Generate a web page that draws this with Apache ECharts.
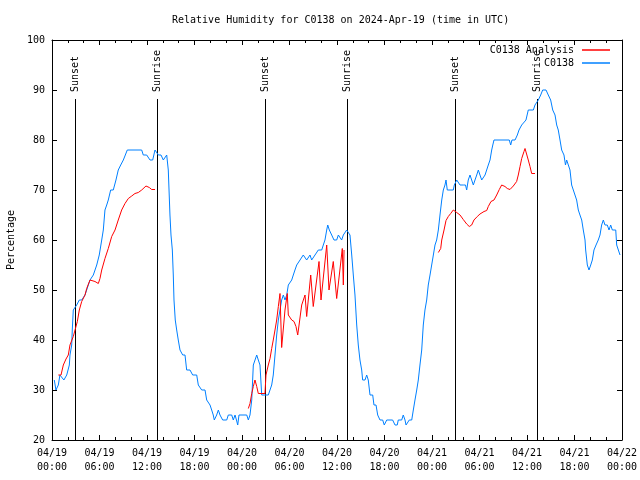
<!DOCTYPE html>
<html>
<head>
<meta charset="utf-8">
<script src="https://cdn.jsdelivr.net/npm/echarts@6/dist/echarts.min.js"></script>
<style>html,body{margin:0;padding:0;background:#fff}#chart{width:640px;height:480px}</style>
</head>
<body>
<div id="chart"></div>
<script>
// ---- data (hours since 2024-04-19 00:00 UTC, relative humidity %) ----
const xTickLabels = ['04/19\n00:00','04/19\n06:00','04/19\n12:00','04/19\n18:00','04/20\n00:00','04/20\n06:00','04/20\n12:00','04/20\n18:00','04/21\n00:00','04/21\n06:00','04/21\n12:00','04/21\n18:00','04/22\n00:00'];

const sunEventHours = [2.9, 13.3, 26.9, 37.2, 50.9, 61.2];
const sunEventNames = ['Sunset', 'Sunrise', 'Sunset', 'Sunrise', 'Sunset', 'Sunrise'];

const observations = [
[0.29,32],[0.5,30],[0.8,31],[1.0,33],[1.5,32],[1.86,33],[2.19,35],[2.27,37],[2.49,39],[2.56,42],[2.69,46],[2.9,46],
[3.12,47],[3.45,48],[3.75,48],[3.95,48],[4.17,49],[4.38,50],[4.59,51],[4.8,52],[5.22,53],[5.43,53],[5.65,55],[5.97,57],
[6.28,60],[6.48,62],[6.69,66],[6.91,67],[7.11,68],[7.41,70],[7.74,70],[8.08,72],[8.37,74],[8.68,75],[9.01,76],[9.22,76],
[9.51,78],[9.85,78],[11.33,78],[11.53,77],[11.96,77],[12.38,76],[12.72,76],[13.01,78],[13.23,78],[13.43,77],[13.77,77],
[14.06,76],[14.27,76],[14.49,77],[14.69,74],[14.9,65],[15.03,61],[15.2,58],[15.32,53],[15.41,48],[15.57,44],[15.75,42],
[15.95,40],[16.17,38],[16.51,37],[16.8,37],[17.01,34],[17.43,34],[17.77,33],[18.28,33],[18.48,31],[18.91,30],[19.33,30],
[19.54,28],[19.96,27],[20.17,26],[20.37,25],[20.5,24],[20.8,25],[21.01,26],[21.22,25],[21.56,24],[22.07,24],[22.27,25],
[22.7,25],[22.9,24],[23.12,25],[23.3,24],[23.46,23],[23.62,25],[24.6,25],[24.8,24],[25.01,25],[25.23,28],[25.43,35],
[25.64,35],[25.86,37],[26.06,36],[26.27,35],[26.49,29],[26.9,29],[27.32,29],[27.75,31],[27.95,33],[28.17,37],[28.38,41],
[28.59,44],[28.8,46],[29.01,48],[29.22,49],[29.43,48],[29.65,49],[29.85,51],[30.06,51],[30.28,52],[30.48,53],[30.69,54],
[30.91,55],[31.11,55],[31.33,56],[31.74,57],[31.96,57],[32.17,56],[32.59,57],[32.8,56],[33.22,57],[33.64,58],[33.85,58],
[34.07,58],[34.27,59],[34.48,60],[34.7,62],[34.83,63],[35.03,62],[35.33,61],[35.62,60],[35.96,60],[36.17,61],[36.38,61],
[36.59,60],[36.8,61],[37.01,61],[37.22,62],[37.43,62],[37.64,61],[37.86,57],[37.96,55],[38.06,53],[38.27,49],[38.49,43],
[38.69,39],[38.9,36],[39.12,34],[39.24,32],[39.54,32],[39.75,33],[39.95,32],[40.17,29],[40.51,29],[40.67,27],[40.93,27],
[41.14,25],[41.43,24],[41.77,24],[41.97,23],[42.28,24],[43.03,24],[43.33,23],[43.61,23],[43.74,24],[44.17,24],[44.37,25],
[44.59,24],[44.72,23],[44.93,23],[45.13,24],[45.44,24],[45.64,26],[45.85,28],[46.07,30],[46.27,32],[46.48,35],[46.7,38],
[46.9,43],[47.11,46],[47.33,48],[47.53,51],[47.75,53],[47.96,55],[48.17,57],[48.38,59],[48.59,60],[48.8,62],[49.01,65],
[49.23,68],[49.43,70],[49.64,71],[49.77,72],[49.93,70],[50.69,70],[50.82,71],[51.12,72],[51.33,72],[51.54,71],[51.95,71],
[52.23,71],[52.38,70],[52.58,72],[52.8,73],[53.01,72],[53.22,71],[53.43,72],[53.65,73],[53.85,74],[54.06,73],[54.28,72],
[54.7,73],[54.91,73],[55.11,75],[55.33,76],[55.54,78],[55.68,79],[55.83,80],[57.76,80],[57.94,79],[58.1,80],[58.49,80],
[58.78,81],[58.99,82],[59.33,83],[59.53,83],[59.87,84],[60.16,86],[60.8,86],[61.01,87],[61.23,87],[61.43,88],[61.73,89],
[61.98,90],[62.4,90],[62.69,89],[62.99,88],[63.25,86],[63.54,85],[63.75,83],[63.95,82],[64.17,80],[64.38,78],[64.67,77],
[64.86,75],[65.01,76],[65.21,76],[65.43,74],[65.64,71],[65.85,71],[66.06,69],[66.27,68],[66.48,66],[66.69,65],[66.91,64],
[67.11,62],[67.33,60],[67.41,58],[67.62,55],[67.83,54],[68.05,55],[68.25,56],[68.46,58],[68.72,59],[69.0,60],[69.22,61],
[69.43,63],[69.64,64],[69.85,63],[70.14,63],[70.36,62],[70.57,63],[70.78,62],[71.0,62],[71.21,62],[71.33,59],[71.54,58],[71.75,57]
];

const analysisDay1 = [
[0.8,33],[1.14,33],[1.43,35],[1.77,36.2],[2.06,37],[2.27,39],[2.69,40.7],[2.9,41],[3.2,43.7],[3.45,46],[3.75,47.7],
[4.17,49],[4.38,50.3],[4.8,52],[5.01,52.1],[5.43,51.7],[5.85,51.3],[6.06,52.3],[6.28,54],[6.69,56.3],[7.11,58.3],
[7.54,60.7],[7.96,62],[8.37,64],[8.8,66],[9.22,67.3],[9.64,68.3],[10.07,68.8],[10.48,69.3],[10.9,69.5],[11.33,70],
[11.87,70.8],[12.29,70.5],[12.59,70.1],[13.01,70.1]
];
const analysisDay2 = [
[24.8,26.3],[25.01,27.3],[25.23,29.3],[25.43,30.7],[25.64,32],[25.86,30.7],[26.06,29.3],[26.9,29.3],[27.03,33],[27.32,35],
[27.54,36.3],[27.75,38.3],[27.95,40],[28.17,42],[28.38,44],[28.59,46.7],[28.8,49.3],[29.01,38.5],[29.43,46],[29.72,49.3],
[29.85,45],[30.28,44],[30.57,43.7],[30.82,42.7],[31.04,41],[31.54,47],[31.96,49],[32.17,44.7],[32.68,53],[33.0,46.7],
[33.73,55.7],[33.98,48],[34.7,59],[34.99,50],[35.53,55.7],[35.96,48.3],[36.67,58.3],[36.8,51],[36.89,58]
];
const analysisDay3 = [
[48.8,57.5],[49.1,58.3],[49.23,60],[49.52,62],[49.77,63.9],[50.06,64.7],[50.36,65.3],[50.69,66],[51.12,65.5],[51.54,65],
[51.95,64.1],[52.38,63.2],[52.71,62.7],[53.01,63],[53.3,64],[53.72,64.7],[54.06,65.2],[54.57,65.7],[54.91,65.9],[55.11,66.7],
[55.45,67.7],[55.83,68],[56.17,69],[56.5,70.1],[56.8,71],[57.22,70.7],[57.51,70.3],[57.85,70.1],[58.27,70.8],[58.69,71.7],
[58.9,73],[59.12,74.7],[59.33,76.3],[59.62,77.7],[59.75,78.3],[59.96,78],[60.16,76],[60.38,74.7],[60.59,73.3],[61.01,73.3]
];

// ---- chart ----
const FONT = 'DejaVu Sans Mono';
const analysis = analysisDay1.concat([[18, '-']], analysisDay2, [[43, '-']], analysisDay3);
const sunLineTop = 88.2;

const chart = echarts.init(document.getElementById('chart'), null, {renderer: 'canvas'});

const baseX = {
  type: 'value', min: 0, max: 72, interval: 6,
  axisLine: {show: true, onZero: false, lineStyle: {color: '#000', width: 1}},
  axisTick: {show: true, inside: true, length: 5, lineStyle: {color: '#000'}},
  minorTick: {show: true, splitNumber: 3, length: 3, lineStyle: {color: '#000'}},
  splitLine: {show: false}
};
const baseY = {
  type: 'value', min: 20, max: 100, interval: 10,
  axisLine: {show: true, onZero: false, lineStyle: {color: '#000', width: 1}},
  axisTick: {show: true, inside: true, length: 5, lineStyle: {color: '#000'}},
  splitLine: {show: false}
};

chart.setOption({
  animation: false,
  backgroundColor: '#fff',
  textStyle: {fontFamily: FONT},
  title: {
    text: 'Relative Humidity for C0138 on 2024-Apr-19 (time in UTC)',
    left: 167, top: 10,
    textStyle: {fontFamily: FONT, fontSize: 10, fontWeight: 'normal', color: '#000'}
  },
  legend: [
    {data: ['C0138 Analysis'], right: 30, top: 45, orient: 'vertical', align: 'right',
     icon: 'rect', itemWidth: 28, itemHeight: 1.5, padding: 0,
     textStyle: {fontFamily: FONT, fontSize: 10, color: '#000', padding: [0, 3, 0, 0]}},
    {data: ['C0138'], right: 30, top: 58, orient: 'vertical', align: 'right',
     icon: 'rect', itemWidth: 28, itemHeight: 1.5, padding: 0,
     textStyle: {fontFamily: FONT, fontSize: 10, color: '#000', padding: [0, 3, 0, 0]}}
  ],
  grid: {left: 52, right: 18, top: 40, bottom: 40, containLabel: false, outerBoundsMode: 'none'},
  xAxis: [
    Object.assign({}, baseX, {
      position: 'bottom',
      axisLabel: {
        show: true, margin: 6, color: '#000', fontFamily: FONT, fontSize: 10, lineHeight: 14,
        formatter: v => xTickLabels[Math.round(v / 6)]
      }
    }),
    Object.assign({}, baseX, {position: 'top', axisLabel: {show: false}})
  ],
  yAxis: [
    Object.assign({}, baseY, {
      position: 'left',
      name: 'Percentage', nameLocation: 'middle', nameGap: 36, nameRotate: 90,
      nameTextStyle: {fontFamily: FONT, fontSize: 10, color: '#000'},
      axisLabel: {show: true, margin: 7, color: '#000', fontFamily: FONT, fontSize: 10}
    }),
    Object.assign({}, baseY, {position: 'right', axisLabel: {show: false}})
  ],
  series: [
    {
      name: 'C0138 Analysis', type: 'line', data: analysis,
      showSymbol: false, symbol: 'none', connectNulls: false,
      lineStyle: {color: '#ff0000', width: 1}, itemStyle: {color: '#ff0000'}, z: 3
    },
    {
      name: 'C0138', type: 'line', data: observations,
      showSymbol: false, symbol: 'none',
      lineStyle: {color: '#0080ff', width: 1}, itemStyle: {color: '#0080ff'}, z: 2
    },
    {
      name: 'sun', type: 'custom',
      data: sunEventHours.map(h => [h]),
      encode: {x: 0},
      z: 1,
      renderItem: function (params, api) {
        const h = api.value(0);
        const p0 = api.coord([h, 20]);
        const p1 = api.coord([h, sunLineTop]);
        const x = Math.round(p0[0]) + 0.5;
        return {
          type: 'group',
          children: [
            {type: 'line', shape: {x1: x, y1: p0[1], x2: x, y2: p1[1]},
             style: {stroke: '#000', lineWidth: 1}},
            {type: 'text', x: x, y: p1[1] - 7, rotation: Math.PI / 2,
             style: {text: sunEventNames[params.dataIndex], fill: '#000',
                     font: '10px "' + FONT + '"', textAlign: 'left', textVerticalAlign: 'middle'}}
          ]
        };
      }
    }
  ]
});
</script>
</body>
</html>
